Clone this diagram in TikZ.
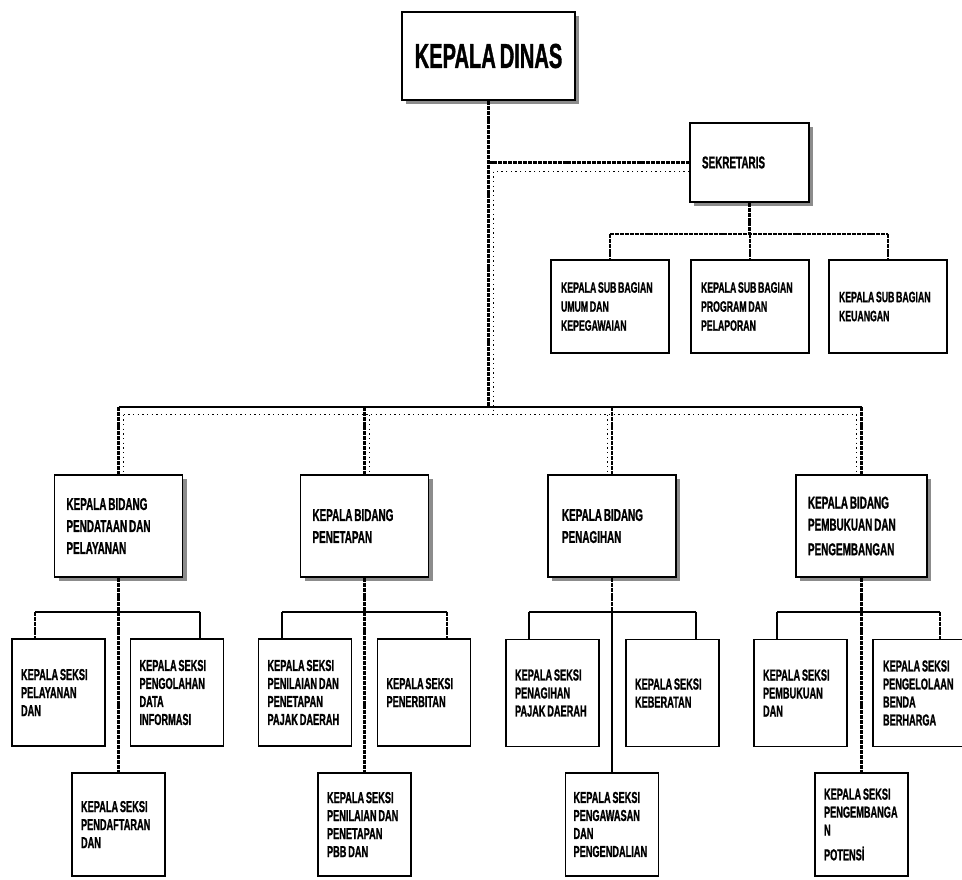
\documentclass[tikz,border=0pt]{standalone}
\usepackage{fontspec}
\newfontfamily\orgfont[FakeStretch=0.58,WordSpace=0.7,BoldFeatures={FakeBold=1}]{Liberation Sans}
\usetikzlibrary{calc,shadows}

\begin{document}
\begin{tikzpicture}[x=0.75pt,y=-0.75pt,
  box/.style={draw,line width=1.1pt,fill=white,inner sep=0pt,align=flush left},
  shade/.style={drop shadow={shadow xshift=3pt,shadow yshift=-3pt,fill=black!45,opacity=1}},
  kepala/.style={box,shade,align=center,minimum width=173*\px,minimum height=88*\px,
    font=\orgfont\bfseries\fontsize{26}{30}\selectfont},
  bidang/.style={box,shade,minimum width=128*\px,minimum height=102*\px,text width=104*\px,
    font=\orgfont\bfseries\fontsize{12.8}{16.5}\selectfont},
  subbag/.style={box,minimum width=118*\px,minimum height=93*\px,text width=98*\px,
    font=\orgfont\bfseries\fontsize{11.3}{14.25}\selectfont},
  seksi/.style={box,minimum width=93*\px,minimum height=107*\px,text width=75*\px,
    font=\orgfont\bfseries\fontsize{11.9}{13.5}\selectfont},
  link/.style={line width=1.6pt,dash pattern=on 3pt off 0.7pt},
  solidlink/.style={line width=1.5pt},
  bus/.style={line width=1.8pt},
  faint/.style={line width=0.6pt,dash pattern=on 1pt off 2.5pt}]
  \def\px{0.75pt}
  \useasboundingbox (0,0) rectangle (962,879);

  % top level
  \node[kepala] (kd) at (488.5,56) {KEPALA DINAS};
  \node[bidang,minimum width=119*\px,minimum height=79*\px,text width=95*\px] (sek) at (749.5,162.5) {SEKRETARIS};

  \node[subbag] (sub1) at (610,306.5) {KEPALA SUB BAGIAN\\UMUM DAN\\KEPEGAWAIAN};
  \node[subbag] (sub2) at (750,306.5) {KEPALA SUB BAGIAN\\PROGRAM DAN\\PELAPORAN};
  \node[subbag] (sub3) at (888,306.5) {KEPALA SUB BAGIAN\\KEUANGAN};

  % bidang
  \node[bidang] (bid1) at (118.5,526) {KEPALA BIDANG\\PENDATAAN DAN\\PELAYANAN};
  \node[bidang] (bid2) at (364.5,526) {KEPALA BIDANG\\PENETAPAN};
  \node[bidang,text width=100*\px] (bid3) at (612,526) {KEPALA BIDANG\\PENAGIHAN};
  \node[bidang,minimum width=131*\px,text width=107*\px] (bid4) at (861.5,526)
    {KEPALA BIDANG\\PEMBUKUAN DAN\\[2pt]PENGEMBANGAN};

  % seksi
  \node[seksi] (kiri1) at (58.5,692.5) {KEPALA SEKSI\\PELAYANAN\\DAN};
  \node[seksi] (kanan1) at (177,692.5) {KEPALA SEKSI\\PENGOLAHAN\\DATA\\INFORMASI};
  \node[seksi,minimum height=103*\px] (bawah1) at (118.5,824.5) {KEPALA SEKSI\\PENDAFTARAN\\DAN};

  \node[seksi] (kiri2) at (305,692.5) {KEPALA SEKSI\\PENILAIAN DAN\\PENETAPAN\\PAJAK DAERAH};
  \node[seksi] (kanan2) at (424,692.5) {KEPALA SEKSI\\PENERBITAN};
  \node[seksi,minimum height=103*\px] (bawah2) at (364.5,824.5) {KEPALA SEKSI\\PENILAIAN DAN\\PENETAPAN\\PBB DAN};

  \node[seksi] (kiri3) at (552.5,693) {KEPALA SEKSI\\PENAGIHAN\\PAJAK DAERAH};
  \node[seksi] (kanan3) at (672.5,693) {KEPALA SEKSI\\KEBERATAN};
  \node[seksi,minimum height=103*\px,text width=77*\px] (bawah3) at (612,824.5)
    {KEPALA SEKSI\\PENGAWASAN\\DAN\\PENGENDALIAN};

  \node[seksi] (kiri4) at (800.5,693) {KEPALA SEKSI\\PEMBUKUAN\\DAN};
  \node[seksi,minimum width=90*\px,text width=70*\px] (kanan4) at (918,693) {KEPALA SEKSI\\PENGELOLAAN\\BENDA\\BERHARGA};
  \node[seksi,minimum height=103*\px] (bawah4) at (861.5,824.5) {KEPALA SEKSI\\PENGEMBANGA\\N\\[5pt]POTENSİ};

  % connectors
  \draw[link] (kd.south) -- ++(0,306) coordinate (bus);
  \draw[link] (kd.south |- sek.west) -- (sek.west);
  \draw[link] (sek.south) -- ++(0,31) coordinate (sekbus);
  \draw[link] (sub1.north |- sekbus) -- (sub3.north |- sekbus);
  \foreach \s in {sub1,sub2,sub3}
    \draw[link] (\s.north |- sekbus) -- (\s.north);

  \draw[bus] (bid1.north |- bus) -- (bid4.north |- bus);
  \foreach \b in {bid1,bid2,bid3,bid4}
    \draw[link] (\b.north |- bus) -- (\b.north);

  % thin second line
  \coordinate (busf) at ($(bus)+(5,8)$);
  \coordinate (f1) at ($(bid1.north)+(5,0)$);
  \coordinate (f2) at ($(bid2.north)+(5,0)$);
  \coordinate (f3) at ($(bid3.north)+(-5,0)$);
  \coordinate (f4) at ($(bid4.north)+(-5,0)$);
  \draw[faint] ($(sek.west)+(0,9)$) -| (busf);
  \draw[faint] (f1 |- busf) -- (f4 |- busf);
  \foreach \f in {f1,f2,f3,f4}
    \draw[faint] (\f |- busf) -- (\f);

  \foreach \k/\lft/\rgt/\mdl in {1/link/solidlink/link,2/solidlink/link/link,
      3/solidlink/solidlink/solidlink,4/solidlink/link/link}{
    \draw[link] (bid\k.south) -- ++(0,34) coordinate (h\k);
    \coordinate (l\k) at ($(kiri\k.north west)+(24,0)$);
    \coordinate (r\k) at ($(kanan\k.north east)+(-24,0)$);
    \draw[solidlink] (l\k |- h\k) -- (r\k |- h\k);
    \draw[\lft] (l\k |- h\k) -- (l\k);
    \draw[\rgt] (r\k |- h\k) -- (r\k);
    \draw[\mdl] (h\k) -- (bawah\k.north);
  }
\end{tikzpicture}
\end{document}
